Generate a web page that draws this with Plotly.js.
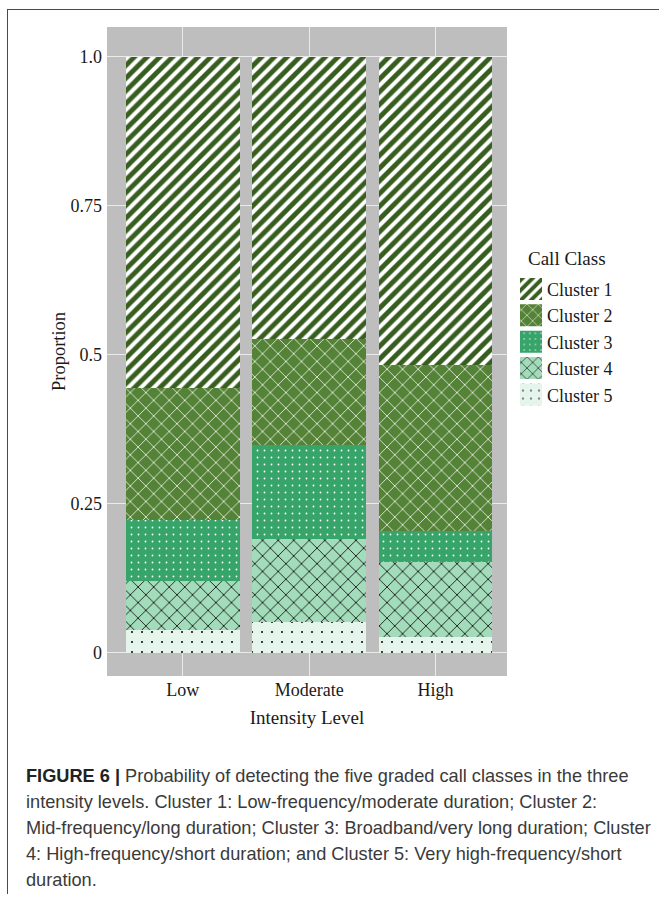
<!DOCTYPE html>
<html>
<head>
<meta charset="utf-8">
<script src="https://cdn.plot.ly/plotly-3.0.1.min.js"></script>
<style>
  html, body { margin: 0; padding: 0; background: #ffffff; }
  #wrap { position: relative; width: 659px; height: 897px; overflow: hidden; }
  #frame { position: absolute; left: 7px; top: 9px; width: 660px; height: 884px;
           border-top: 1.5px solid #4a4a4a; border-left: 1.5px solid #4a4a4a; }
  #chart { position: absolute; left: 0; top: 0; width: 659px; height: 897px; }
  #caption { position: absolute; left: 26px; top: 764px; width: 633px;
             font-family: "Liberation Sans", Arial, sans-serif; font-size: 18.2px;
             line-height: 25.9px; color: #3a3a3a; white-space: nowrap; }
  #caption b { color: #222222; }
</style>
</head>
<body>
<div id="wrap">
  <div id="frame"></div>
  <div id="chart"></div>
  <div id="caption"><b>FIGURE 6 |</b> Probability of detecting the five graded call classes in the three<br>intensity levels. Cluster 1: Low-frequency/moderate duration; Cluster 2:<br>Mid-frequency/long duration; Cluster 3: Broadband/very long duration; Cluster<br>4: High-frequency/short duration; and Cluster 5: Very high-frequency/short<br>duration.</div>
</div>
<script>
// Categories (x axis)
const intensityLevels = ["Low", "Moderate", "High"];

// Proportion of each call class per intensity level (stacked, bottom -> top: Cluster 5 ... Cluster 1)
const cluster5 = [0.039, 0.052, 0.027];
const cluster4 = [0.082, 0.139, 0.125];
const cluster3 = [0.102, 0.158, 0.053];
const cluster2 = [0.222, 0.178, 0.278];
const cluster1 = [0.555, 0.473, 0.517];

// Legend names
const clusterNames = ["Cluster 1", "Cluster 2", "Cluster 3", "Cluster 4", "Cluster 5"];

// Y tick labels
const yTickVals = [0, 0.25, 0.5, 0.75, 1.0];
const yTickText = ["0", "0.25", "0.5", "0.75", "1.0"];

const styles = {
  "Cluster 1": {bg: "#375d1f", fg: "#ffffff", shape: "/", size: 9, solidity: 0.45},
  "Cluster 2": {bg: "#548236", fg: "#ffffff", shape: "x", size: 11, solidity: 0.13},
  "Cluster 3": {bg: "#37a56a", fg: "#ffffff", shape: ".", size: 7, solidity: 0.05},
  "Cluster 4": {bg: "#a3dcba", fg: "#111111", shape: "x", size: 11, solidity: 0.15},
  "Cluster 5": {bg: "#e5f5eb", fg: "#111111", shape: ".", size: 10, solidity: 0.035}
};

const seriesBottomUp = [
  ["Cluster 5", cluster5],
  ["Cluster 4", cluster4],
  ["Cluster 3", cluster3],
  ["Cluster 2", cluster2],
  ["Cluster 1", cluster1]
];

const traces = seriesBottomUp.map(([name, vals]) => {
  const s = styles[name];
  return {
    type: "bar",
    name: name,
    legendgroup: name,
    legendrank: clusterNames.indexOf(name) + 1,
    x: intensityLevels,
    y: vals,
    width: 0.9,
    marker: {
      color: s.bg,
      line: {width: 0},
      pattern: {shape: s.shape, bgcolor: s.bg, fgcolor: s.fg, size: s.size,
                solidity: s.solidity, fillmode: "replace"}
    },
    hoverinfo: "x+y+name"
  };
});

const serif = "Liberation Serif, Times New Roman, serif";
const txt = "#1a1a1a";

const layout = {
  width: 659,
  height: 897,
  margin: {l: 107, r: 152, t: 27, b: 221},
  paper_bgcolor: "rgba(0,0,0,0)",
  plot_bgcolor: "#bebebe",
  barmode: "stack",
  bargap: 0.1,
  font: {family: serif, size: 18, color: txt},
  xaxis: {
    type: "category",
    categoryorder: "array",
    categoryarray: intensityLevels,
    range: [-0.6, 2.565],
    showgrid: true,
    gridcolor: "#ebebeb",
    gridwidth: 1.3,
    zeroline: false,
    showline: false,
    ticks: "",
    ticklabelstandoff: 1,
    tickfont: {family: serif, size: 18, color: txt},
    title: {text: "Intensity Level", font: {family: serif, size: 19, color: txt}, standoff: 11}
  },
  yaxis: {
    range: [-0.039, 1.05],
    tickvals: yTickVals,
    ticktext: yTickText,
    showgrid: true,
    gridcolor: "#ebebeb",
    gridwidth: 1.3,
    zeroline: false,
    showline: false,
    ticks: "",
    ticklabelstandoff: 4,
    tickfont: {family: serif, size: 18, color: txt},
    title: {text: "Proportion", font: {family: serif, size: 18.5, color: txt}, standoff: 0}
  },
  legend: {
    x: 1.0, xanchor: "left",
    y: 0.6245, yanchor: "top",
    traceorder: "grouped",
    tracegroupgap: 0,
    bgcolor: "rgba(0,0,0,0)",
    font: {family: serif, size: 18, color: txt}
  },
  annotations: [{
    text: "Call Class",
    xref: "paper", yref: "paper",
    x: 1.048, y: 0.644, xanchor: "left", yanchor: "middle",
    showarrow: false,
    font: {family: serif, size: 19, color: txt}
  }],
  showlegend: true
};

Plotly.newPlot("chart", traces, layout, {displayModeBar: false, staticPlot: true}).then(() => {
  // enlarge legend keys to match the reference's square swatches
  document.querySelectorAll("#chart .legendpoints path").forEach(p => {
    p.setAttribute("d", "M15,11H-7V-11H15Z");
  });
});
</script>
</body>
</html>
